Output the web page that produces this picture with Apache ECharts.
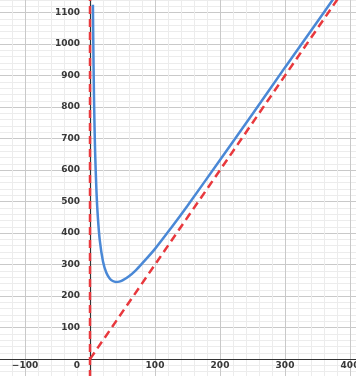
<!DOCTYPE html>
<html><head><meta charset="utf-8">
<script src="https://cdn.jsdelivr.net/npm/echarts@6/dist/echarts.min.js"></script>
<style>html,body{margin:0;padding:0;background:#fff}#c{width:356px;height:376px}</style>
</head><body><div id="c"></div>
<script>
// Curve values: [x, y]
const curveX = [4.5, 5, 6, 7, 8, 10, 12, 15, 20, 25, 30, 35, 40, 45, 50, 60, 70, 80, 100, 125, 150, 200, 250, 300, 350, 380];
const curveY = [1125, 1015, 851, 735, 649, 530, 453, 378, 310, 275, 257, 248, 245, 246, 250, 263, 281, 303, 350, 417, 487, 632, 778, 926, 1072, 1160];
// Oblique asymptote (dashed)
const obliqueX = [0, 400];
const obliqueY = [0, 1200];
// Vertical asymptote (dashed)
const verticalX = [0, 0];
const verticalY = [-60, 1140];
// Tick label values
const xTickLabels = [-100, 0, 100, 200, 300, 400];
const yTickLabels = [100, 200, 300, 400, 500, 600, 700, 800, 900, 1000, 1100];

const zip = (a, b) => a.map((v, i) => [v, b[i]]);
const MAJ = '#c9c9c9', MIN = '#ececec';
const labelStyle = {fontFamily: 'DejaVu Sans', fontWeight: 'bold', fontSize: 9, color: '#383838'};

const chart = echarts.init(document.getElementById('c'));
chart.setOption({
  animation: false,
  grid: {left: -1, top: 0, width: 364, height: 378, containLabel: false,
         outerBounds: {left: -300, top: -300, right: -300, bottom: -300}},
  xAxis: {
    type: 'value', min: -140, max: 420, interval: 20,
    position: 'bottom', offset: -19,
    axisLine: {onZero: false, lineStyle: {color: '#333', width: 1.2}},
    axisTick: {show: false},
    axisLabel: Object.assign({
      interval: 0, margin: 2, showMinLabel: true, showMaxLabel: true,
      formatter: v => v === 0 ? '{z|0}' : (xTickLabels.includes(v) ? String(v).replace('-', '\u2212') : ''),
      rich: {z: Object.assign({padding: [0, 26, 0, 0]}, labelStyle)}
    }, labelStyle),
    splitLine: {show: true, lineStyle: {color: [MIN, MIN, MAJ, MIN, MIN], width: 1}}
  },
  yAxis: {
    type: 'value', min: -60, max: 1140, interval: 20,
    position: 'left', offset: -91,
    axisLine: {onZero: false, lineStyle: {color: '#333', width: 1.2}},
    axisTick: {show: false},
    axisLabel: Object.assign({
      interval: 0, margin: 10,
      formatter: v => yTickLabels.includes(v) ? String(v) : ''
    }, labelStyle),
    splitLine: {show: true, lineStyle: {color: [MIN, MIN, MIN, MAJ, MIN], width: 1}}
  },
  series: [
    {type: 'line', data: zip(obliqueX, obliqueY), showSymbol: false, symbol: 'none',
     lineStyle: {color: '#e8383d', width: 2.5, type: [8, 5]}, z: 3},
    {type: 'line', data: zip(verticalX, verticalY), showSymbol: false, symbol: 'none',
     lineStyle: {color: '#e8383d', width: 2.5, type: [8, 5]}, z: 3},
    {type: 'line', data: zip(curveX, curveY), showSymbol: false, symbol: 'none', smooth: 0.3,
     lineStyle: {color: '#4a88d6', width: 2.5}, z: 4}
  ]
});
</script></body></html>
